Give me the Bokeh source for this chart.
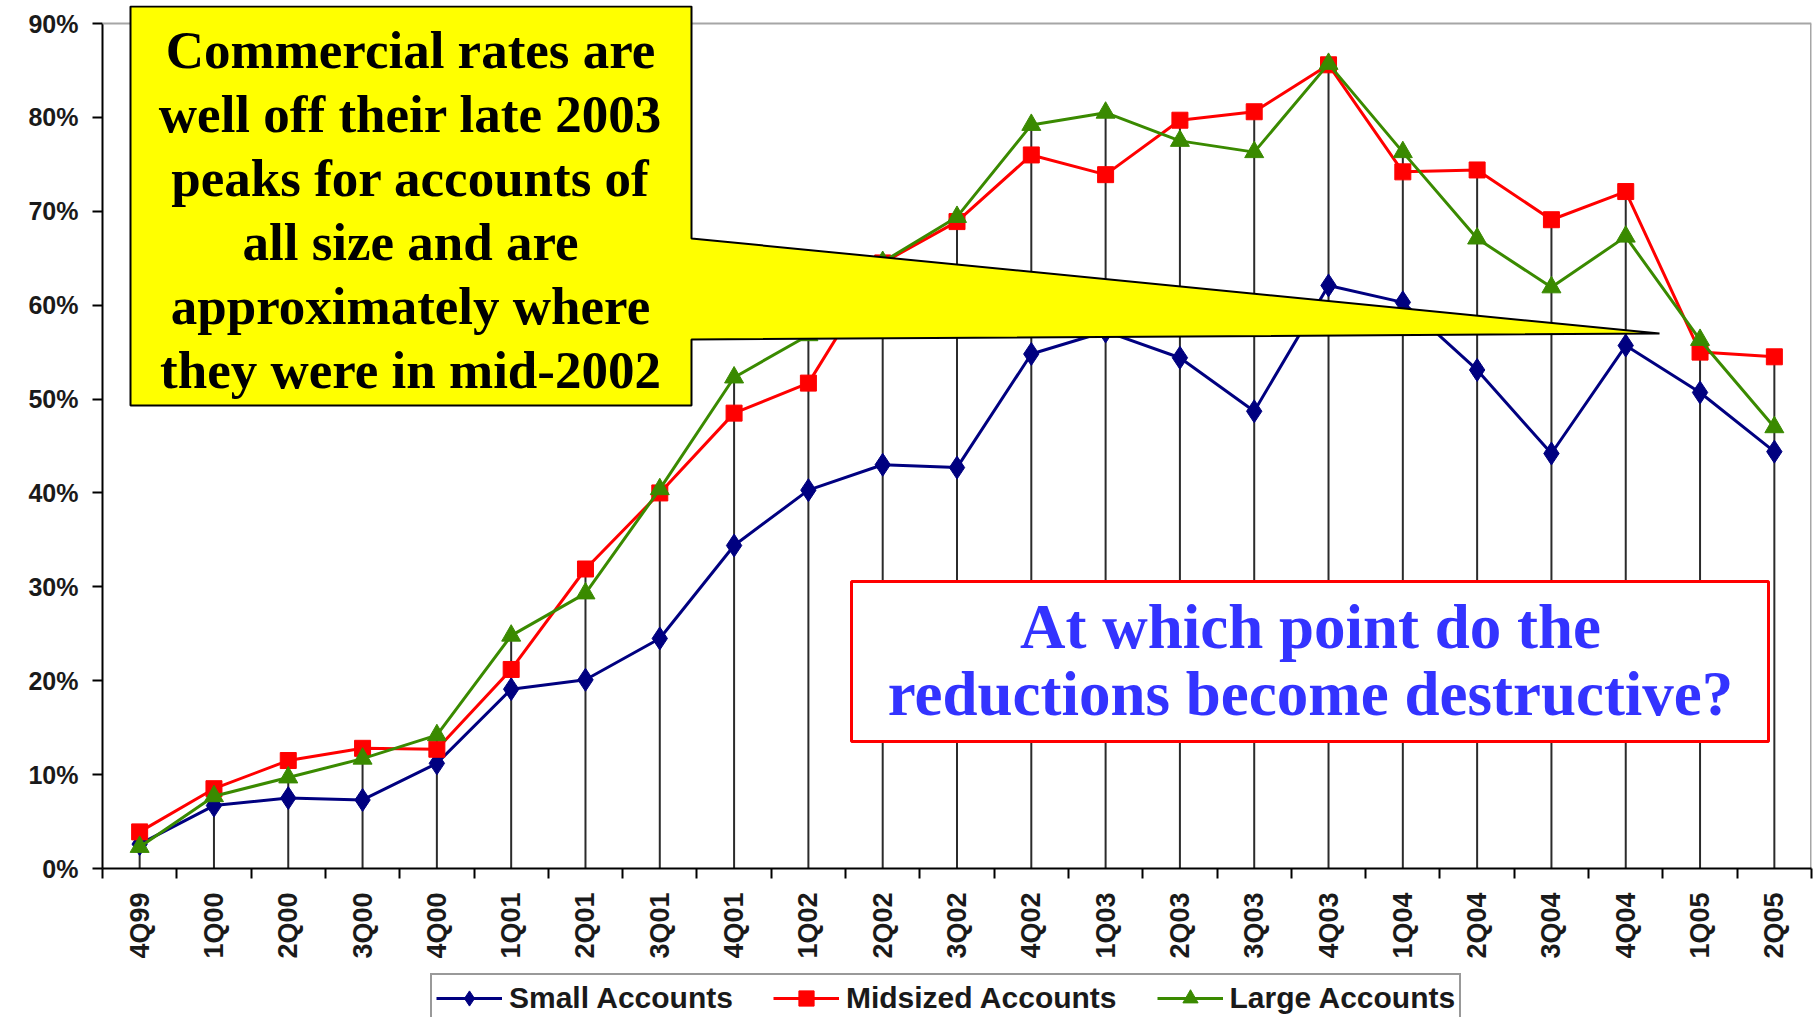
import math
from bokeh.plotting import figure
from bokeh.layouts import column
from bokeh.models import (Range1d, FixedTicker, PrintfTickFormatter, Legend, LegendItem,
                          PolyAnnotation, BoxAnnotation, Label, ColumnDataSource, Span)
from bokeh.embed import file_html
from bokeh.resources import INLINE

# ---------------- data ----------------
quarters = ["4Q99", "1Q00", "2Q00", "3Q00", "4Q00", "1Q01", "2Q01", "3Q01", "4Q01",
            "1Q02", "2Q02", "3Q02", "4Q02", "1Q03", "2Q03", "3Q03", "4Q03",
            "1Q04", "2Q04", "3Q04", "4Q04", "1Q05", "2Q05"]
small = [2.6, 6.7, 7.5, 7.3, 11.2, 19.1, 20.1, 24.5, 34.4, 40.3, 43.0, 42.7, 54.8,
         57.2, 54.4, 48.7, 62.1, 60.3, 53.1, 44.2, 55.7, 50.7, 44.4]
midsized = [3.9, 8.5, 11.5, 12.8, 12.7, 21.2, 31.9, 40.0, 48.5, 51.7, 64.5, 68.9, 76.0,
            73.9, 79.7, 80.6, 85.6, 74.2, 74.4, 69.1, 72.1, 55.0, 54.5]
large = [2.3, 7.7, 9.7, 11.7, 14.2, 24.8, 29.3, 40.4, 52.3, 56.8, 64.6, 69.4, 79.2,
         80.5, 77.5, 76.3, 85.7, 76.3, 67.1, 61.9, 67.3, 56.3, 47.0]
y_ticks = [0, 10, 20, 30, 40, 50, 60, 70, 80, 90]
series_names = ["Small Accounts", "Midsized Accounts", "Large Accounts"]

callout_lines = ["Commercial rates are", "well off their late 2003", "peaks for accounts of",
                 "all size and are", "approximately where", "they were in mid-2002"]
question_lines = ["At which point do the", "reductions become destructive?"]

# ---------------- layout (page pixels) ----------------
W = 1814
H_MAIN, H_LEG = 972, 45
FL, FR = 102.0, 1811.0        # frame left / right
Y90, FB = 23.0, 868.0         # pixel rows of the top tick value and of 0
FT = 5.0                      # frame top (room for the callout above the 90% line)
n = len(quarters)
idx = list(range(n))
ymin, ymax = y_ticks[0], y_ticks[-1]
ppu = (FB - Y90) / (ymax - ymin)          # pixels per y unit
y_top = ymax + (Y90 - FT) / ppu


def to_x(px):
    return -0.5 + (px - FL) * n / (FR - FL)


def to_y(py):
    return ymin + (FB - py) / ppu


p = figure(width=W, height=H_MAIN, output_backend="svg", toolbar_location=None,
           x_range=Range1d(-0.5, n - 0.5), y_range=Range1d(ymin, y_top),
           min_border_left=int(FL), min_border_right=int(W - FR), min_border_top=int(FT),
           min_border_bottom=int(H_MAIN - FB),
           background_fill_color="white", border_fill_color="white")
p.grid.visible = False
p.outline_line_color = None

# x axis
xa = p.xaxis[0]
xa.ticker = FixedTicker(ticks=idx, minor_ticks=[i - 0.5 for i in range(n + 1)])
xa.major_label_overrides = {i: q for i, q in enumerate(quarters)}
xa.major_label_orientation = math.pi / 2
xa.major_tick_out = 0
xa.major_tick_in = 0
xa.minor_tick_out = 10
xa.minor_tick_in = 0
xa.minor_tick_line_color = "black"
xa.minor_tick_line_width = 2
xa.axis_line_color = "black"
xa.axis_line_width = 2
xa.major_label_standoff = 14
xa.major_label_text_font = "Liberation Sans"
xa.major_label_text_font_size = "27px"
xa.major_label_text_font_style = "bold"
xa.major_label_text_color = "#1a1a1a"

# y axis
ya = p.yaxis[0]
ya.ticker = FixedTicker(ticks=y_ticks)
ya.bounds = (ymin, ymax)
ya.formatter = PrintfTickFormatter(format="%d%%")
ya.major_tick_out = 10
ya.major_tick_in = 0
ya.major_tick_line_color = "black"
ya.major_tick_line_width = 2
ya.minor_tick_out = 0
ya.minor_tick_in = 0
ya.axis_line_color = "black"
ya.axis_line_width = 2
ya.major_label_standoff = 14
ya.major_label_text_font = "Liberation Sans"
ya.major_label_text_font_size = "25px"
ya.major_label_text_font_style = "bold"
ya.major_label_text_color = "#1a1a1a"

# plot-area border (gray) at the top value and at the right end
p.add_layout(Span(location=ymax, dimension="width", line_color="#A6A6A6", line_width=2))
p.segment(x0=[n - 0.5], y0=[ymin], x1=[n - 0.5], y1=[ymax], line_color="#A6A6A6", line_width=3)

# drop lines (from the highest series value down to the axis)
tops = [max(a, b, c) for a, b, c in zip(small, midsized, large)]
p.segment(x0=idx, y0=[ymin] * n, x1=idx, y1=tops, line_color="#2b2b2b", line_width=2)

# series
src = ColumnDataSource(dict(x=idx, small=small, mid=midsized, large=large))
colors = ["#000080", "#FF0000", "#3A8A00"]
markers = ["diamond", "square", "triangle"]
sizes = [23, 16, 19]
cols = ["small", "mid", "large"]
for col, color, mk, sz in zip(cols, colors, markers, sizes):
    p.line("x", col, source=src, line_color=color, line_width=3)
    p.scatter("x", col, source=src, marker=mk, size=sz, fill_color=color, line_color=color)

# yellow callout with pointer
poly_px = [(130, 6), (691, 6), (691, 238), (1659, 333), (691, 339), (691, 405), (130, 405)]
p.add_layout(PolyAnnotation(xs=[to_x(a) for a, b in poly_px], ys=[to_y(b) for a, b in poly_px],
                            fill_color="#FFFF00", fill_alpha=1.0,
                            line_color="black", line_width=2, line_alpha=1.0))
for i, t in enumerate(callout_lines):
    p.add_layout(Label(x=to_x(410), y=to_y(49 + 64 * i), text=t, text_align="center",
                       text_baseline="alphabetic", text_font="Liberation Serif",
                       text_font_style="bold", text_font_size="53px", text_color="black"))

# question box
p.add_layout(BoxAnnotation(left=to_x(851), right=to_x(1768), top=to_y(581), bottom=to_y(741),
                           fill_color="white", fill_alpha=1.0,
                           line_color="#FF0000", line_width=3, line_alpha=1.0))
for i, t in enumerate(question_lines):
    p.add_layout(Label(x=to_x(1310), y=to_y(626 + 67 * i), text=t, text_align="center",
                       text_baseline="alphabetic", text_font="Liberation Serif",
                       text_font_style="bold", text_font_size="63px", text_color="#3333FF"))

# ---------------- legend strip (box runs past the bottom edge, as in the original) ----------
# the strip reuses the series data with a y window above all values, so only the legend shows
pl = figure(width=W, height=H_LEG, output_backend="svg", toolbar_location=None,
            x_axis_location=None, y_axis_location=None, min_border=0,
            x_range=Range1d(-0.5, n - 0.5), y_range=Range1d(1000, 1001),
            background_fill_color="white", border_fill_color="white")
pl.grid.visible = False
pl.outline_line_color = None
items = []
for name, col, color, mk, sz in zip(series_names, cols, colors, markers, sizes):
    ln = pl.line("x", col, source=src, line_color=color, line_width=3)
    sc = pl.scatter("x", col, source=src, marker=mk, size=sz, fill_color=color,
                    line_color=color)
    items.append(LegendItem(label=name, renderers=[ln, sc]))
legend = Legend(items=items, orientation="horizontal", location=(328, -6),
                label_text_font="Liberation Sans", label_text_font_style="bold",
                label_text_font_size="30px", label_text_color="#1a1a1a",
                glyph_width=66, glyph_height=38, label_standoff=7, spacing=40,
                padding=4, margin=0, border_line_color="#333333", border_line_width=2,
                background_fill_color="white", background_fill_alpha=1.0)
pl.add_layout(legend)

layout = column(p, pl, spacing=0)
open("out.html", "w").write(file_html(layout, INLINE))
